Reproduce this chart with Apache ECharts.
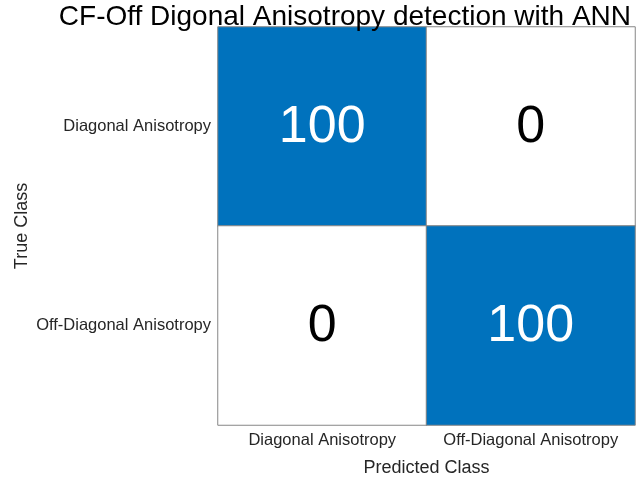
<!DOCTYPE html>
<html>
<head>
<meta charset="utf-8">
<script src="https://cdn.jsdelivr.net/npm/echarts@6/dist/echarts.min.js"></script>
<style>
  html, body { margin: 0; padding: 0; background: #fff; }
  #c1 { width: 639px; height: 482px; }
</style>
</head>
<body>
<div id="c1"></div>
<script>
// class names, same order for true and predicted
var classes = ['Diagonal Anisotropy', 'Off-Diagonal Anisotropy'];
// rows = true class, cols = predicted class
var row0 = [100, 0];
var row1 = [0, 100];
var counts = [row0, row1];

var cells = [];
for (var i = 0; i < counts.length; ++i) {
  for (var j = 0; j < counts[i].length; ++j) {
    var v = counts[i][j];
    cells.push({
      value: [j, i, v],
      label: { color: v > 50 ? '#ffffff' : '#000000' }
    });
  }
}

var font = 'Liberation Sans, Arial';
var chart = echarts.init(document.getElementById('c1'));
var option = {
  animation: false,
  backgroundColor: '#fff',
  title: {
    text: 'CF-Off Digonal Anisotropy detection with ANN',
    right: 3,
    top: -2,
    textStyle: {
      fontFamily: font,
      fontSize: 28,
      fontWeight: 'normal',
      color: '#000'
    }
  },
  grid: { left: 218, right: 4, top: 27, bottom: 57, outerBoundsMode: 'none' },
  xAxis: {
    type: 'category',
    data: classes,
    name: 'Predicted Class',
    nameLocation: 'middle',
    nameGap: 34,
    nameMoveOverlap: false,
    nameTextStyle: { fontFamily: font, fontSize: 18, color: '#262626' },
    axisLine: { show: false },
    axisTick: { show: false },
    axisLabel: { interval: 0, hideOverlap: false, fontFamily: font, fontSize: 16.5, color: '#262626', margin: 7 },
    splitLine: { show: false }
  },
  yAxis: {
    type: 'category',
    data: classes,
    inverse: true,
    name: 'True Class',
    nameLocation: 'middle',
    nameGap: 187,
    nameMoveOverlap: false,
    nameTextStyle: { fontFamily: font, fontSize: 18, color: '#262626' },
    axisLine: { show: false },
    axisTick: { show: false },
    axisLabel: { interval: 0, fontFamily: font, fontSize: 16.5, color: '#262626', margin: 7 },
    splitLine: { show: false }
  },
  visualMap: {
    show: false,
    min: 0,
    max: 100,
    dimension: 2,
    inRange: { color: ['#ffffff', '#0072BD'] }
  },
  series: [{
    type: 'heatmap',
    data: cells,
    itemStyle: { borderColor: '#868686', borderWidth: 1 },
    label: {
      show: true,
      fontFamily: font,
      fontSize: 52,
      offset: [0, 1.5],
      formatter: function (p) { return p.value[2]; }
    },
    emphasis: { disabled: true }
  }]
};
chart.setOption(option);
</script>
</body>
</html>
